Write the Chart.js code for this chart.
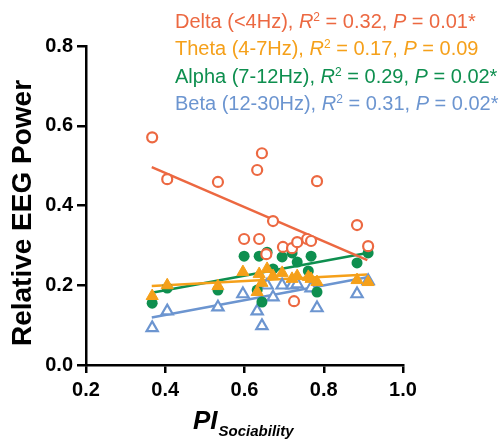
<!DOCTYPE html>
<html>
<head>
    <script src="https://cdn.jsdelivr.net/npm/chart.js"></script>
    <style>
        body { margin: 0; background: #fff; }
    </style>
</head>
<body>
    <canvas id="eegChart" width="502" height="446"></canvas>

    <script>
        // Values
        const deltaX = [0.367, 0.405, 0.533, 0.644, 0.632, 0.783, 0.672, 0.599, 0.637, 0.655, 0.697, 0.720, 0.733, 0.758, 0.768, 0.725, 0.884, 0.912];
        const deltaY = [0.571, 0.466, 0.459, 0.531, 0.489, 0.461, 0.361, 0.316, 0.316, 0.278, 0.296, 0.293, 0.308, 0.316, 0.311, 0.160, 0.351, 0.298];

        const thetaX = [0.367, 0.405, 0.533, 0.596, 0.637, 0.657, 0.672, 0.644, 0.632, 0.695, 0.720, 0.733, 0.761, 0.768, 0.783, 0.884, 0.912];
        const thetaY = [0.173, 0.200, 0.198, 0.233, 0.228, 0.241, 0.223, 0.206, 0.183, 0.231, 0.216, 0.223, 0.221, 0.216, 0.208, 0.213, 0.208];

        const alphaX = [0.367, 0.405, 0.533, 0.599, 0.637, 0.672, 0.632, 0.644, 0.657, 0.695, 0.720, 0.733, 0.768, 0.761, 0.783, 0.884, 0.912];
        const alphaY = [0.155, 0.193, 0.188, 0.273, 0.273, 0.241, 0.188, 0.158, 0.283, 0.271, 0.281, 0.258, 0.273, 0.236, 0.183, 0.256, 0.281];

        const betaX = [0.367, 0.405, 0.533, 0.596, 0.632, 0.644, 0.657, 0.672, 0.695, 0.720, 0.733, 0.768, 0.783, 0.884, 0.912];
        const betaY = [0.093, 0.135, 0.145, 0.178, 0.135, 0.098, 0.200, 0.170, 0.200, 0.200, 0.203, 0.193, 0.143, 0.178, 0.211];

        // regression line ends
        const fitX = [0.366, 0.910];
        const deltaFit = [0.496, 0.263];
        const thetaFit = [0.198, 0.227];
        const alphaFit = [0.181, 0.281];
        const betaFit = [0.119, 0.220];

        const bandNames = ['Delta (<4Hz)', 'Theta (4-7Hz)', 'Alpha (7-12Hz)', 'Beta (12-30Hz)'];
        const r2Values = ['0.32', '0.17', '0.29', '0.31'];
        const pValues = ['0.01*', '0.09', '0.02*', '0.02*'];

        const xTicks = [0.2, 0.4, 0.6, 0.8, 1.0];
        const yTicks = [0.0, 0.2, 0.4, 0.6, 0.8];

        const colors = ['#EC6841', '#F5A01A', '#0E8F4F', '#6C95D0'];
        const FONT = 'Liberation Sans, Arial, sans-serif';

        const pts = (xs, ys) => xs.map((x, i) => ({ x: x, y: ys[i] }));

        function fitLine(ys, color) {
            return {
                type: 'line',
                data: pts(fitX, ys),
                borderColor: color,
                borderWidth: 2.5,
                pointRadius: 0,
                fill: false
            };
        }

        // legend + axis titles, drawn as text so the italics and sub/superscripts work
        const textPlugin = {
            id: 'textPlugin',
            afterDraw(chart) {
                const ctx = chart.ctx;
                ctx.save();
                ctx.textBaseline = 'alphabetic';
                ctx.textAlign = 'left';

                const baselines = [28, 55, 83, 110];
                bandNames.forEach((name, i) => {
                    let x = 175;
                    const y = baselines[i];
                    ctx.fillStyle = colors[i];
                    const part = (txt, font, dy) => {
                        ctx.font = font;
                        ctx.fillText(txt, x, y + (dy || 0));
                        x += ctx.measureText(txt).width;
                    };
                    part(name + ', ', '20px ' + FONT);
                    part('R', 'italic 20px ' + FONT);
                    part('2', '12px ' + FONT, -7);
                    part(' = ' + r2Values[i] + ', ', '20px ' + FONT);
                    part('P', 'italic 20px ' + FONT);
                    part(' = ' + pValues[i], '20px ' + FONT);
                });

                // y title
                ctx.fillStyle = '#000';
                ctx.save();
                ctx.translate(23, 213);
                ctx.rotate(-Math.PI / 2);
                ctx.textAlign = 'center';
                ctx.textBaseline = 'middle';
                ctx.font = 'bold 28px ' + FONT;
                ctx.fillText('Relative EEG Power', 0, 0);
                ctx.restore();

                // x title with subscript
                ctx.font = 'bold italic 26px ' + FONT;
                ctx.fillText('PI', 193, 429);
                const w = ctx.measureText('PI').width;
                ctx.font = 'bold italic 15px ' + FONT;
                ctx.fillText('Sociability', 193 + w + 1, 436);
                ctx.restore();
            }
        };

        new Chart(document.getElementById('eegChart'), {
            type: 'scatter',
            data: {
                datasets: [
                    {
                        data: pts(deltaX, deltaY),
                        pointStyle: 'circle',
                        pointRadius: 5,
                        borderWidth: 2.2,
                        borderColor: colors[0],
                        backgroundColor: '#fff'
                    },
                    {
                        data: pts(thetaX, thetaY),
                        pointStyle: 'triangle',
                        pointRadius: 7,
                        borderWidth: 1,
                        borderColor: colors[1],
                        backgroundColor: colors[1]
                    },
                    {
                        data: pts(alphaX, alphaY),
                        pointStyle: 'circle',
                        pointRadius: 5.5,
                        borderWidth: 0,
                        borderColor: colors[2],
                        backgroundColor: colors[2]
                    },
                    {
                        data: pts(betaX, betaY),
                        pointStyle: 'triangle',
                        pointRadius: 6.5,
                        borderWidth: 2.2,
                        borderColor: colors[3],
                        backgroundColor: '#fff'
                    },
                    fitLine(deltaFit, colors[0]),
                    fitLine(thetaFit, colors[1]),
                    fitLine(alphaFit, colors[2]),
                    fitLine(betaFit, colors[3])
                ]
            },
            options: {
                responsive: false,
                animation: false,
                layout: {
                    padding: { top: 46, right: 99, left: 0, bottom: 0 }
                },
                scales: {
                    x: {
                        type: 'linear',
                        min: 0.2,
                        max: 1.0,
                        afterFit: scale => { scale.height = 81; },
                        afterBuildTicks: scale => { scale.ticks = xTicks.map(v => ({ value: v })); },
                        border: { display: true, color: '#000', width: 2.5 },
                        grid: { drawOnChartArea: false, drawTicks: true, tickLength: 8, color: '#000', lineWidth: 2.5 },
                        ticks: {
                            color: '#000',
                            padding: 5,
                            font: { family: FONT, size: 20, weight: 'bold' },
                            callback: v => v.toFixed(1)
                        }
                    },
                    y: {
                        type: 'linear',
                        min: 0,
                        max: 0.8,
                        afterFit: scale => { scale.width = 86; },
                        afterBuildTicks: scale => { scale.ticks = yTicks.map(v => ({ value: v })); },
                        border: { display: true, color: '#000', width: 2.5 },
                        grid: { drawOnChartArea: false, drawTicks: true, tickLength: 9, color: '#000', lineWidth: 2.5 },
                        ticks: {
                            color: '#000',
                            padding: 4,
                            font: { family: FONT, size: 20, weight: 'bold' },
                            callback: v => v.toFixed(1)
                        }
                    }
                },
                plugins: {
                    legend: { display: false },
                    tooltip: { enabled: false }
                }
            },
            plugins: [textPlugin]
        });
    </script>
</body>
</html>
